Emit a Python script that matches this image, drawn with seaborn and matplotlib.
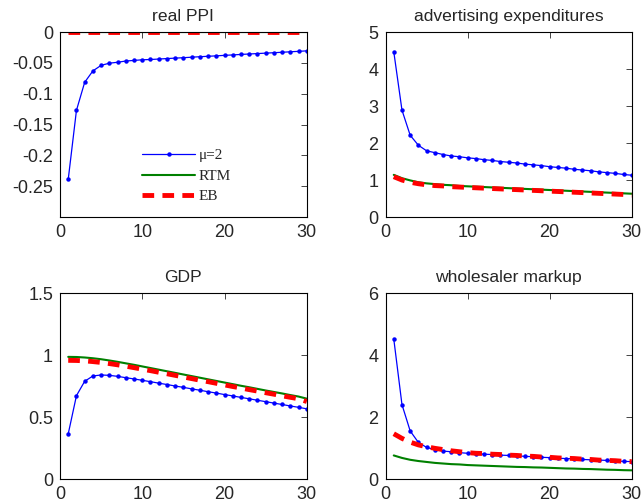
import numpy as np
import pandas as pd
import matplotlib
matplotlib.use("Agg")
import matplotlib.pyplot as plt
import seaborn as sns

# horizon
periods = list(range(1, 31))

# real PPI
ppi_mu2 = [-0.239, -0.127, -0.0815, -0.063, -0.054, -0.0505, -0.049, -0.047, -0.046, -0.045,
           -0.0445, -0.0438, -0.0430, -0.0423, -0.0416, -0.0408, -0.0400, -0.0393, -0.0386, -0.0378,
           -0.0371, -0.0363, -0.0356, -0.0349, -0.0342, -0.0335, -0.0328, -0.0320, -0.0313, -0.0305]
ppi_rtm = [0.0] * 30
ppi_eb = [0.0] * 30

# advertising expenditures
adv_mu2 = [4.47, 2.89, 2.21, 1.94, 1.79, 1.74, 1.69, 1.65, 1.63, 1.60,
           1.58, 1.55, 1.53, 1.50, 1.48, 1.46, 1.43, 1.41, 1.39, 1.36,
           1.34, 1.32, 1.29, 1.27, 1.25, 1.22, 1.20, 1.18, 1.15, 1.13]
adv_rtm = [1.14, 1.05, 0.99, 0.94, 0.91, 0.89, 0.87, 0.86, 0.84, 0.83,
           0.82, 0.81, 0.80, 0.79, 0.78, 0.77, 0.76, 0.75, 0.74, 0.73,
           0.72, 0.71, 0.70, 0.69, 0.68, 0.67, 0.66, 0.65, 0.64, 0.63]
adv_eb = [1.09, 1.00, 0.94, 0.90, 0.87, 0.85, 0.84, 0.82, 0.81, 0.80,
          0.79, 0.78, 0.77, 0.76, 0.75, 0.74, 0.73, 0.72, 0.71, 0.70,
          0.69, 0.68, 0.67, 0.66, 0.65, 0.64, 0.63, 0.62, 0.61, 0.59]

# GDP
gdp_mu2 = [0.364, 0.672, 0.788, 0.831, 0.839, 0.836, 0.828, 0.817, 0.807, 0.796,
           0.785, 0.773, 0.762, 0.750, 0.739, 0.727, 0.716, 0.704, 0.693, 0.681,
           0.670, 0.658, 0.647, 0.635, 0.624, 0.612, 0.601, 0.589, 0.578, 0.566]
gdp_rtm = [0.985, 0.984, 0.980, 0.974, 0.966, 0.956, 0.945, 0.933, 0.921, 0.908,
           0.895, 0.882, 0.869, 0.856, 0.843, 0.830, 0.817, 0.804, 0.791, 0.778,
           0.765, 0.752, 0.740, 0.727, 0.714, 0.702, 0.690, 0.677, 0.665, 0.648]
gdp_eb = [0.957, 0.956, 0.953, 0.947, 0.940, 0.931, 0.921, 0.910, 0.898, 0.886,
          0.874, 0.861, 0.849, 0.836, 0.823, 0.810, 0.797, 0.785, 0.772, 0.759,
          0.746, 0.734, 0.721, 0.709, 0.696, 0.684, 0.671, 0.659, 0.647, 0.625]

# wholesaler markup
mk_mu2 = [4.52, 2.40, 1.55, 1.18, 1.02, 0.95, 0.90, 0.88, 0.85, 0.83,
          0.82, 0.80, 0.79, 0.77, 0.76, 0.75, 0.73, 0.72, 0.70, 0.69,
          0.67, 0.66, 0.65, 0.63, 0.62, 0.61, 0.60, 0.58, 0.57, 0.56]
mk_rtm = [0.76, 0.68, 0.62, 0.58, 0.55, 0.52, 0.50, 0.48, 0.47, 0.45,
          0.44, 0.43, 0.42, 0.41, 0.40, 0.39, 0.385, 0.375, 0.37, 0.36,
          0.35, 0.34, 0.335, 0.325, 0.32, 0.31, 0.30, 0.295, 0.285, 0.28]
mk_eb = [1.46, 1.31, 1.19, 1.10, 1.04, 0.99, 0.95, 0.91, 0.88, 0.85,
         0.83, 0.82, 0.80, 0.79, 0.77, 0.76, 0.74, 0.73, 0.71, 0.70,
         0.68, 0.67, 0.66, 0.64, 0.63, 0.61, 0.60, 0.59, 0.57, 0.56]

titles = ["real PPI", "advertising expenditures", "GDP", "wholesaler markup"]
series = [(ppi_mu2, ppi_rtm, ppi_eb), (adv_mu2, adv_rtm, adv_eb),
          (gdp_mu2, gdp_rtm, gdp_eb), (mk_mu2, mk_rtm, mk_eb)]
ylims = [(-0.3, 0), (0, 5), (0, 1.5), (0, 6)]
yticks = [[-0.25, -0.2, -0.15, -0.1, -0.05, 0], [0, 1, 2, 3, 4, 5],
          [0, 0.5, 1, 1.5], [0, 2, 4, 6]]
yticklabels = [["-0.25", "-0.2", "-0.15", "-0.1", "-0.05", "0"],
               ["0", "1", "2", "3", "4", "5"], ["0", "0.5", "1", "1.5"], ["0", "2", "4", "6"]]

sns.set_style("white")
plt.rcParams['font.family'] = ['Liberation Sans', 'DejaVu Sans']
plt.rcParams['xtick.direction'] = 'in'
plt.rcParams['ytick.direction'] = 'in'

fig = plt.figure(figsize=(6.41, 5.04), dpi=100)
# axes rectangles (left, bottom, width, height)
rects = [[0.0936, 0.5694, 0.385, 0.367], [0.6015, 0.5694, 0.384, 0.367],
         [0.0936, 0.0496, 0.385, 0.369], [0.6015, 0.0496, 0.384, 0.369]]

for i in range(4):
    ax = fig.add_axes(rects[i])
    mu2, rtm, eb = series[i]
    df = pd.DataFrame({"t": periods, "mu2": mu2, "rtm": rtm, "eb": eb})
    sns.lineplot(data=df, x="t", y="mu2", ax=ax, color=(0, 0, 1), lw=0.9,
                 marker='o', markersize=3.2, markeredgewidth=0, label="\u03bc=2")
    sns.lineplot(data=df, x="t", y="rtm", ax=ax, color=(0, 0.5, 0), lw=1.5, label="RTM")
    sns.lineplot(data=df, x="t", y="eb", ax=ax, color=(1, 0, 0), lw=3.5,
                 dashes=False, label="EB").lines[-1].set_dashes((2.4, 1.7))
    ax.set_xlim(0, 30)
    ax.set_ylim(*ylims[i])
    ax.set_xticks([0, 10, 20, 30])
    ax.set_yticks(yticks[i])
    ax.set_yticklabels(yticklabels[i])
    ax.set_xlabel("")
    ax.set_ylabel("")
    ax.set_title(titles[i], fontsize=12.6, pad=8)
    ax.tick_params(labelsize=13, top=True, right=True, length=4, width=0.6, pad=5)
    for s in ax.spines.values():
        s.set_linewidth(0.8)
        s.set_color("black")
    if i == 0:
        ax.legend(loc="upper left", bbox_to_anchor=(0.332, 0.37), frameon=False,
                  prop={"family": "Liberation Serif", "size": 11}, handlelength=3.5,
                  handletextpad=0.2, borderpad=0, borderaxespad=0, labelspacing=0.45)
    else:
        ax.get_legend().remove()

fig.savefig("out.png", dpi=100)
